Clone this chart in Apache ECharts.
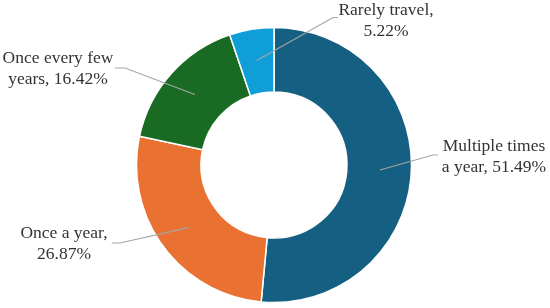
<!DOCTYPE html>
<html>
<head>
<meta charset="utf-8">
<script src="https://cdn.jsdelivr.net/npm/echarts@6/dist/echarts.min.js"></script>
<style>
  html, body { margin: 0; padding: 0; background: #fff; }
  #chart { width: 550px; height: 308px; }
</style>
</head>
<body>
<div id="chart"></div>
<script>
// travel frequency shares (%)
var categories = ['Multiple times\na year', 'Once a year', 'Once every few\nyears', 'Rarely travel'];
var shares = [51.49, 26.87, 16.42, 5.22];
var colors = ['#156082', '#e97132', '#196b24', '#0f9ed5'];

// ring geometry
var cx = 274, cy = 165, rIn = 73, rOut = 137.5, rLine = 106;

// where each label sits and where its leader line bends / ends
var labelSpots = [
  { x: 494, y: 157, bend: [433, 155], end: [438, 155] },
  { x: 64,  y: 244, bend: [120, 243], end: [112, 243] },
  { x: 58,  y: 69,  bend: [125, 68],  end: [115, 68] },
  { x: 386, y: 21,  bend: [333, 17.5], end: [338, 17.5] }
];

var total = shares.reduce(function (a, b) { return a + b; }, 0);

// point on the middle of a slice, where the leader line starts
function sliceMid(i) {
  var before = 0;
  for (var k = 0; k < i; k++) before += shares[k];
  var frac = (before + shares[i] / 2) / total;
  var ang = (90 - frac * 360) * Math.PI / 180;
  return [cx + rLine * Math.cos(ang), cy - rLine * Math.sin(ang)];
}

var pieData = categories.map(function (c, i) {
  return { name: c, value: shares[i] };
});

var chart = echarts.init(document.getElementById('chart'), null, { renderer: 'canvas' });

chart.setOption({
  animation: false,
  backgroundColor: '#fff',
  color: colors,
  series: [{
    // the ring itself
    type: 'pie',
    z: 2,
    center: [cx, cy],
    radius: [rIn, rOut],
    startAngle: 90,
    clockwise: true,
    itemStyle: { borderColor: '#fff', borderWidth: 1.5 },
    label: { show: false },
    labelLine: { show: false },
    emphasis: { disabled: true },
    data: pieData
  }, {
    // invisible copy on top, only for labels + leader lines
    type: 'pie',
    z: 5,
    silent: true,
    center: [cx, cy],
    radius: [rIn, rOut],
    startAngle: 90,
    clockwise: true,
    avoidLabelOverlap: false,
    itemStyle: { color: 'rgba(0,0,0,0)', borderWidth: 0 },
    label: {
      show: true,
      position: 'outside',
      fontFamily: '"Liberation Serif", "Times New Roman", serif',
      fontSize: 17.5,
      lineHeight: 21,
      color: '#333333',
      align: 'center',
      formatter: function (p) {
        var pct = p.value.toFixed(2) + '%';
        return p.name.indexOf('\n') >= 0 ? p.name + ', ' + pct : p.name + ',\n' + pct;
      }
    },
    labelLine: {
      show: true,
      lineStyle: { color: '#a5a5a5', width: 1.2 }
    },
    labelLayout: function (params) {
      var s = labelSpots[params.dataIndex];
      return {
        x: s.x,
        y: s.y,
        align: 'center',
        verticalAlign: 'middle',
        labelLinePoints: [sliceMid(params.dataIndex), s.bend, s.end]
      };
    },
    emphasis: { disabled: true },
    data: pieData
  }]
});
</script>
</body>
</html>
